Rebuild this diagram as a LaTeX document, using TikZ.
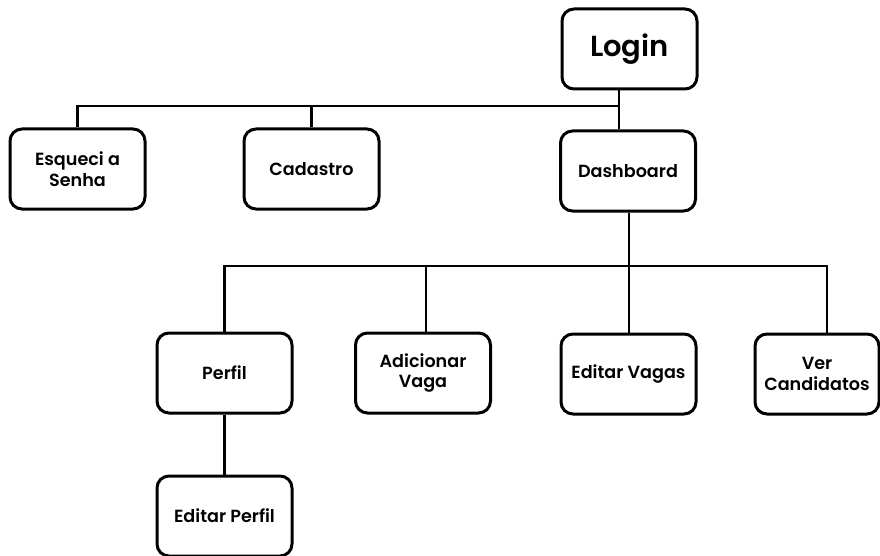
\documentclass[tikz,border=0pt]{standalone}
\usepackage{fontspec}
\setmainfont{Poppins}[BoldFont={Poppins SemiBold}]
\usetikzlibrary{positioning,calc}

\begin{document}
\begin{tikzpicture}[x=1pt, y=-1pt, %
        tela/.style={draw, line width=3pt, rounded corners=12pt,
          minimum width=135pt, minimum height=80pt, align=center,
          font=\bfseries\fontsize{17.6}{20.5}\selectfont, inner sep=2pt},
        liga/.style={line width=2.6pt}
        ]
        \useasboundingbox (0,0) rectangle (880,556);
        % nivel 1
        \node[tela, font=\bfseries\fontsize{29}{32}\selectfont] (login) at (629.5,49) {Login};
        \node[tela] (esq) at (77.5,169) {Esqueci a\\Senha};
        \node[tela] (cad) at (311.5,169) {Cadastro};
        \node[tela] (dash) at (628,171) {Dashboard};
        % nivel 2
        \node[tela] (perfil) at (224.5,373) {Perfil};
        \node[tela] (addvaga) at (423,373) {Adicionar\\Vaga};
        \node[tela] (edvagas) at (628.5,374) {Editar Vagas};
        \node[tela, minimum width=124pt] (ver) at (817,374) {Ver\\Candidatos};
        \node[tela] (edperfil) at (224.5,516) {Editar Perfil};

        \coordinate (j1) at (619,106);
        \coordinate (j2) at (629,266);
        \coordinate (k1) at (426,266);
        \coordinate (k2) at (827,266);

        \draw[liga] (login.south -| j1) -- (j1);
        \draw[liga] (esq.north) |- (j1);
        \draw[liga] (cad.north) -- (cad.north |- j1);
        \draw[liga] (j1) -- (dash.north -| j1);

        \draw[liga] (dash.south -| j2) -- (edvagas.north -| j2);
        \draw[liga] (perfil.north) |- (k2) -- (ver.north -| k2);
        \draw[liga] (k1) -- (addvaga.north -| k1);
        \draw[liga] (perfil.south) -- (edperfil.north);
      \end{tikzpicture}
\end{document}
